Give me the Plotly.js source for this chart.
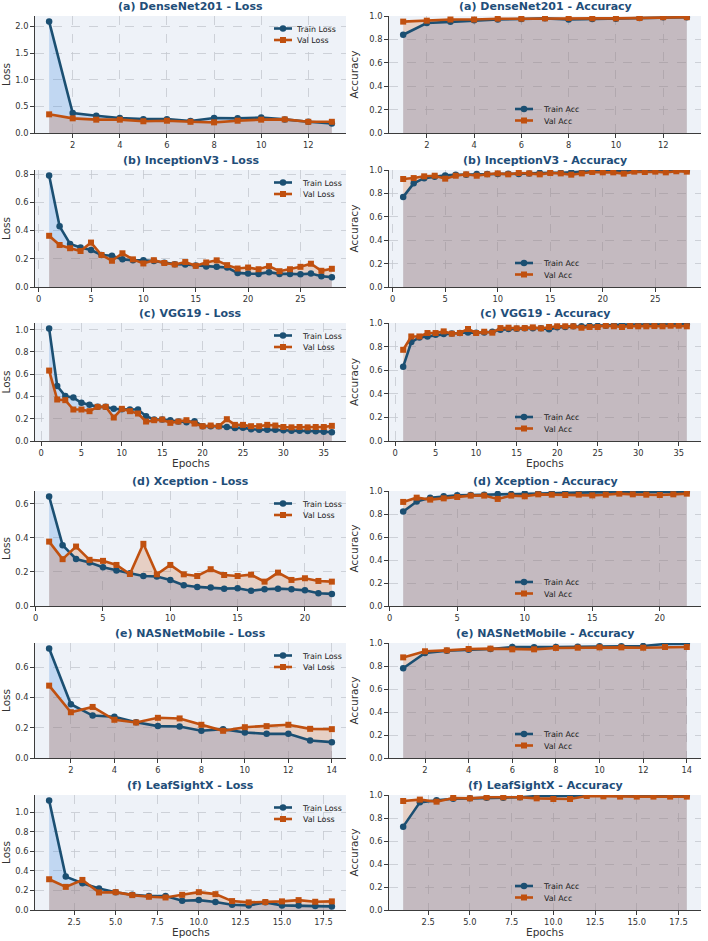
<!DOCTYPE html>
<html>
<head>
<meta charset="utf-8">
<script src="https://cdn.plot.ly/plotly-3.0.1.min.js"></script>
<style>
  html, body { margin: 0; padding: 0; background: #ffffff; }
  #chart { width: 708px; height: 941px; }
</style>
</head>
<body>
<div id="chart"></div>
<script>
// ---- Training histories per model (one value per epoch) ----
const models = ['DenseNet201', 'InceptionV3', 'VGG19', 'Xception', 'NASNetMobile', 'LeafSightX'];
const letters = ['a', 'b', 'c', 'd', 'e', 'f'];

const densenetTrainLoss = [2.09, 0.375, 0.325, 0.28, 0.26, 0.26, 0.225, 0.28, 0.275, 0.29, 0.255, 0.21, 0.18];
const densenetValLoss   = [0.35, 0.275, 0.25, 0.25, 0.22, 0.23, 0.21, 0.20, 0.23, 0.25, 0.255, 0.21, 0.21];
const densenetTrainAcc  = [0.84, 0.94, 0.95, 0.963, 0.97, 0.974, 0.98, 0.97, 0.974, 0.977, 0.983, 0.99, 0.99];
const densenetValAcc    = [0.952, 0.96, 0.97, 0.97, 0.977, 0.977, 0.98, 0.983, 0.98, 0.98, 0.983, 0.99, 0.99];

const inceptionTrainLoss = [0.79, 0.43, 0.305, 0.28, 0.262, 0.227, 0.222, 0.196, 0.19, 0.19, 0.184, 0.172, 0.162, 0.16,
  0.153, 0.146, 0.143, 0.138, 0.10, 0.095, 0.093, 0.105, 0.093, 0.093, 0.09, 0.095, 0.076, 0.07];
const inceptionValLoss = [0.363, 0.298, 0.275, 0.255, 0.315, 0.227, 0.186, 0.239, 0.196, 0.167, 0.19, 0.17, 0.16, 0.177,
  0.15, 0.174, 0.189, 0.155, 0.131, 0.138, 0.126, 0.148, 0.112, 0.126, 0.143, 0.165, 0.115, 0.129];
const inceptionTrainAcc = [0.77, 0.886, 0.93, 0.943, 0.954, 0.96, 0.96, 0.966, 0.966, 0.966, 0.969, 0.966, 0.971, 0.977,
  0.977, 0.977, 0.983, 0.983, 0.989, 0.991, 0.989, 0.994, 0.994, 0.994, 0.994, 0.994, 0.997, 0.994];
const inceptionValAcc = [0.923, 0.931, 0.946, 0.951, 0.926, 0.951, 0.963, 0.951, 0.963, 0.971, 0.963, 0.974, 0.971, 0.963,
  0.974, 0.971, 0.96, 0.971, 0.983, 0.98, 0.98, 0.969, 0.986, 0.983, 0.986, 0.98, 0.989, 0.986];

const vggTrainLoss = [1.01, 0.494, 0.404, 0.39, 0.343, 0.325, 0.307, 0.307, 0.289, 0.286, 0.283, 0.283, 0.223, 0.193,
  0.193, 0.187, 0.175, 0.169, 0.178, 0.133, 0.133, 0.133, 0.126, 0.117, 0.12, 0.105, 0.102, 0.102, 0.102, 0.096,
  0.093, 0.093, 0.09, 0.087, 0.084, 0.078];
const vggValLoss = [0.633, 0.373, 0.367, 0.283, 0.283, 0.268, 0.307, 0.307, 0.211, 0.289, 0.268, 0.247, 0.175, 0.187,
  0.193, 0.163, 0.175, 0.187, 0.157, 0.133, 0.139, 0.133, 0.196, 0.145, 0.145, 0.133, 0.133, 0.145, 0.139, 0.126,
  0.123, 0.126, 0.123, 0.126, 0.126, 0.136];
const vggTrainAcc = [0.63, 0.838, 0.878, 0.886, 0.90, 0.906, 0.912, 0.915, 0.92, 0.918, 0.92, 0.926, 0.943, 0.949,
  0.952, 0.955, 0.955, 0.955, 0.946, 0.963, 0.966, 0.972, 0.972, 0.977, 0.977, 0.977, 0.983, 0.986, 0.983, 0.986,
  0.986, 0.986, 0.986, 0.986, 0.986, 0.989];
const vggValAcc = [0.773, 0.886, 0.886, 0.915, 0.915, 0.929, 0.909, 0.915, 0.949, 0.915, 0.926, 0.918, 0.957, 0.96,
  0.955, 0.957, 0.963, 0.955, 0.966, 0.972, 0.972, 0.972, 0.96, 0.966, 0.966, 0.977, 0.972, 0.966, 0.974, 0.972,
  0.972, 0.974, 0.972, 0.977, 0.977, 0.972];

const xceptionTrainLoss = [0.643, 0.357, 0.276, 0.255, 0.227, 0.208, 0.192, 0.176, 0.173, 0.153, 0.122, 0.112, 0.108,
  0.102, 0.104, 0.09, 0.098, 0.102, 0.098, 0.092, 0.075, 0.071];
const xceptionValLoss = [0.378, 0.275, 0.349, 0.271, 0.265, 0.241, 0.188, 0.365, 0.186, 0.241, 0.186, 0.176, 0.216,
  0.182, 0.176, 0.184, 0.143, 0.196, 0.153, 0.163, 0.147, 0.143];
const xceptionTrainAcc = [0.821, 0.908, 0.942, 0.954, 0.962, 0.965, 0.968, 0.974, 0.974, 0.98, 0.983, 0.986, 0.986,
  0.986, 0.988, 0.988, 0.988, 0.988, 0.988, 0.991, 0.991, 0.991];
const xceptionValAcc = [0.905, 0.942, 0.925, 0.936, 0.948, 0.96, 0.96, 0.931, 0.96, 0.954, 0.971, 0.968, 0.965,
  0.968, 0.962, 0.968, 0.977, 0.971, 0.968, 0.965, 0.971, 0.977];

const nasnetTrainLoss = [0.725, 0.356, 0.281, 0.273, 0.237, 0.211, 0.209, 0.18, 0.191, 0.169, 0.16, 0.16, 0.116, 0.105];
const nasnetValLoss   = [0.479, 0.303, 0.338, 0.253, 0.235, 0.266, 0.262, 0.22, 0.18, 0.204, 0.211, 0.22, 0.193, 0.191];
const nasnetTrainAcc  = [0.78, 0.913, 0.933, 0.942, 0.948, 0.965, 0.962, 0.965, 0.968, 0.971, 0.971, 0.974, 0.991, 0.994];
const nasnetValAcc    = [0.875, 0.928, 0.936, 0.948, 0.951, 0.945, 0.945, 0.957, 0.959, 0.962, 0.962, 0.959, 0.965, 0.965];

const leafTrainLoss = [1.118, 0.341, 0.274, 0.22, 0.182, 0.155, 0.142, 0.142, 0.095, 0.101, 0.081, 0.054, 0.047,
  0.078, 0.047, 0.047, 0.04, 0.037];
const leafValLoss = [0.314, 0.236, 0.307, 0.179, 0.182, 0.152, 0.135, 0.128, 0.155, 0.182, 0.162, 0.091, 0.078,
  0.081, 0.088, 0.101, 0.084, 0.088];
const leafTrainAcc = [0.725, 0.936, 0.954, 0.968, 0.971, 0.977, 0.977, 0.98, 0.991, 0.991, 0.994, 0.997, 0.997,
  0.997, 0.997, 0.997, 0.997, 0.997];
const leafValAcc = [0.948, 0.96, 0.942, 0.974, 0.971, 0.98, 0.98, 0.98, 0.971, 0.965, 0.965, 0.991, 0.988,
  0.986, 0.986, 0.986, 0.986, 0.986];

const trainLoss = [densenetTrainLoss, inceptionTrainLoss, vggTrainLoss, xceptionTrainLoss, nasnetTrainLoss, leafTrainLoss];
const valLoss   = [densenetValLoss, inceptionValLoss, vggValLoss, xceptionValLoss, nasnetValLoss, leafValLoss];
const trainAcc  = [densenetTrainAcc, inceptionTrainAcc, vggTrainAcc, xceptionTrainAcc, nasnetTrainAcc, leafTrainAcc];
const valAcc    = [densenetValAcc, inceptionValAcc, vggValAcc, xceptionValAcc, nasnetValAcc, leafValAcc];

// Tick settings per row: x step, x tick format, loss y step
const xTickStep = [2, 5, 5, 5, 2, 2.5];
const xTickFmt  = ['d', 'd', 'd', 'd', 'd', '.1f'];
const lossTickStep = [0.5, 0.2, 0.2, 0.2, 0.2, 0.2];

// ---- Page geometry (pixels) ----
const W = 708, H = 941;
const rowTop    = [16, 170, 323, 491, 643, 795];
const rowBottom = [133, 287, 441, 606, 758, 910];
const colLeft  = [35, 389];
const colRight = [346, 701];

const C_TRAIN = '#1b4f72';
const C_VAL = '#c0500f';
const F_TRAIN = 'rgba(74,144,226,0.27)';
const F_VAL = 'rgba(205,95,35,0.24)';
const TITLE_COLOR = '#1f4e79';
const FONT = 'DejaVu Sans, Verdana, sans-serif';
const LEGEND_ROW = 11.5;   // vertical distance between legend entries

const px = v => v / W;
const py = v => 1 - v / H;

const traces = [];
const layout = {
  width: W, height: H,
  margin: {l: 0, r: 0, t: 0, b: 0},
  paper_bgcolor: '#ffffff',
  plot_bgcolor: '#eef2f8',
  font: {family: FONT, color: '#333333', size: 8},
  annotations: [],
  showlegend: true
};

function axisBase() {
  return {
    showgrid: true, gridcolor: '#c4c8d0', griddash: 'dash', gridwidth: 0.8,
    showline: true, linecolor: '#3c3c3c', linewidth: 1.3, mirror: false,
    ticks: 'outside', ticklen: 3.5, tickwidth: 1, tickcolor: '#3c3c3c',
    tickfont: {family: FONT, size: 8.3, color: '#333333'},
    zeroline: false, fixedrange: true
  };
}

for (let r = 0; r < 6; r++) {
  const n = trainLoss[r].length;
  const epochs = trainLoss[r].map((_, i) => i + 1);
  const pad = 0.05 * (n - 1);
  const lossMax = Math.max(...trainLoss[r], ...valLoss[r]) * 1.05;

  const panels = [
    {kind: 'Loss', tr: trainLoss[r], va: valLoss[r], top: lossMax, dy: lossTickStep[r],
     names: ['Train Loss', 'Val Loss']},
    {kind: 'Accuracy', tr: trainAcc[r], va: valAcc[r], top: 1.0, dy: 0.2,
     names: ['Train Acc', 'Val Acc']}
  ];

  panels.forEach((p, c) => {
    const k = r * 2 + c + 1;
    const xa = 'x' + (k === 1 ? '' : k);
    const ya = 'y' + (k === 1 ? '' : k);
    const xkey = 'xaxis' + (k === 1 ? '' : k);
    const ykey = 'yaxis' + (k === 1 ? '' : k);
    const lg = 'legend' + (k === 1 ? '' : k);
    const cx = (px(colLeft[c]) + px(colRight[c])) / 2;

    // shaded areas under each curve
    traces.push({x: epochs, y: p.tr, xaxis: xa, yaxis: ya, mode: 'none', fill: 'tozeroy',
      fillcolor: F_TRAIN, showlegend: false, hoverinfo: 'skip'});
    traces.push({x: epochs, y: p.va, xaxis: xa, yaxis: ya, mode: 'none', fill: 'tozeroy',
      fillcolor: F_VAL, showlegend: false, hoverinfo: 'skip'});
    // curves
    traces.push({x: epochs, y: p.tr, xaxis: xa, yaxis: ya, mode: 'lines+markers', name: p.names[0],
      line: {color: C_TRAIN, width: 2.6}, marker: {symbol: 'circle', size: 6.5, color: C_TRAIN},
      legend: lg});
    traces.push({x: epochs, y: p.va, xaxis: xa, yaxis: ya, mode: 'lines+markers', name: p.names[1],
      line: {color: C_VAL, width: 2.6}, marker: {symbol: 'square', size: 6, color: C_VAL},
      legend: lg});

    layout[xkey] = Object.assign(axisBase(), {
      domain: [px(colLeft[c]), px(colRight[c])], anchor: ya,
      range: [1 - pad, n + pad], dtick: xTickStep[r], tick0: 0, tickformat: xTickFmt[r]
    });
    layout[ykey] = Object.assign(axisBase(), {
      domain: [py(rowBottom[r]), py(rowTop[r])], anchor: xa,
      range: [0, p.top], dtick: p.dy, tick0: 0, tickformat: '.1f',
      title: {text: p.kind, font: {family: FONT, size: 10.5, color: '#333333'}, standoff: 8}
    });

    // x-axis caption under the middle and bottom rows
    if (r === 2 || r === 5) {
      layout.annotations.push({
        text: 'Epochs', xref: 'paper', yref: 'paper', x: cx, y: py(rowBottom[r] + 14),
        xanchor: 'center', yanchor: 'top', showarrow: false,
        font: {family: FONT, size: 10.5, color: '#333333'}
      });
    }

    // subplot title
    layout.annotations.push({
      text: '<b>(' + letters[r] + ') ' + models[r] + ' - ' + p.kind + '</b>',
      xref: 'paper', yref: 'paper', x: cx, y: py(rowTop[r]),
      xanchor: 'center', yanchor: 'bottom', yshift: 2, showarrow: false, borderpad: 0,
      font: {family: FONT, size: 11, color: TITLE_COLOR}
    });

    // legend placement
    const legObj = {
      bgcolor: 'rgba(255,255,255,0)', borderwidth: 0,
      font: {family: FONT, size: 7.9, color: '#222222'},
      itemwidth: 30, tracegroupgap: 0
    };
    if (c === 0) {
      Object.assign(legObj, {x: px(colRight[c] + 2), xanchor: 'right', y: py(rowTop[r] - 2), yanchor: 'top'});
    } else {
      Object.assign(legObj, {x: cx, xanchor: 'center', y: py(rowBottom[r] + 2), yanchor: 'bottom'});
    }
    layout[lg] = legObj;
  });
}

// Tighten legend entries: shorter sample lines and closer rows
function compactLegends(root) {
  for (let k = 1; k <= 12; k++) {
    const leg = root.querySelector('g.' + (k === 1 ? 'legend' : 'legend' + k));
    if (!leg) continue;
    const items = Array.from(leg.querySelectorAll('g.traces'));
    if (items.length !== 2) continue;
    const pos = items.map(it => {
      const m = /translate\(\s*([-\d.e]+)[\s,]+([-\d.e]+)/.exec(it.getAttribute('transform') || '');
      return m ? [parseFloat(m[1]), parseFloat(m[2])] : null;
    });
    if (pos.some(v => !v)) continue;
    if (k % 2 === 1) pos[1][1] = pos[0][1] + LEGEND_ROW;
    else pos[0][1] = pos[1][1] - LEGEND_ROW;
    items.forEach((it, i) => {
      it.setAttribute('transform', 'translate(' + pos[i][0] + ',' + pos[i][1] + ')');
      it.querySelectorAll('g.legendlines path').forEach(p => p.setAttribute('d', 'M11,0h18'));
      const t = it.querySelector('text.legendtext');
      if (t) t.setAttribute('x', 34);
    });
  }
}

Plotly.newPlot('chart', traces, layout, {displayModeBar: false, staticPlot: true})
  .then(gd => compactLegends(gd));
</script>
</body>
</html>
